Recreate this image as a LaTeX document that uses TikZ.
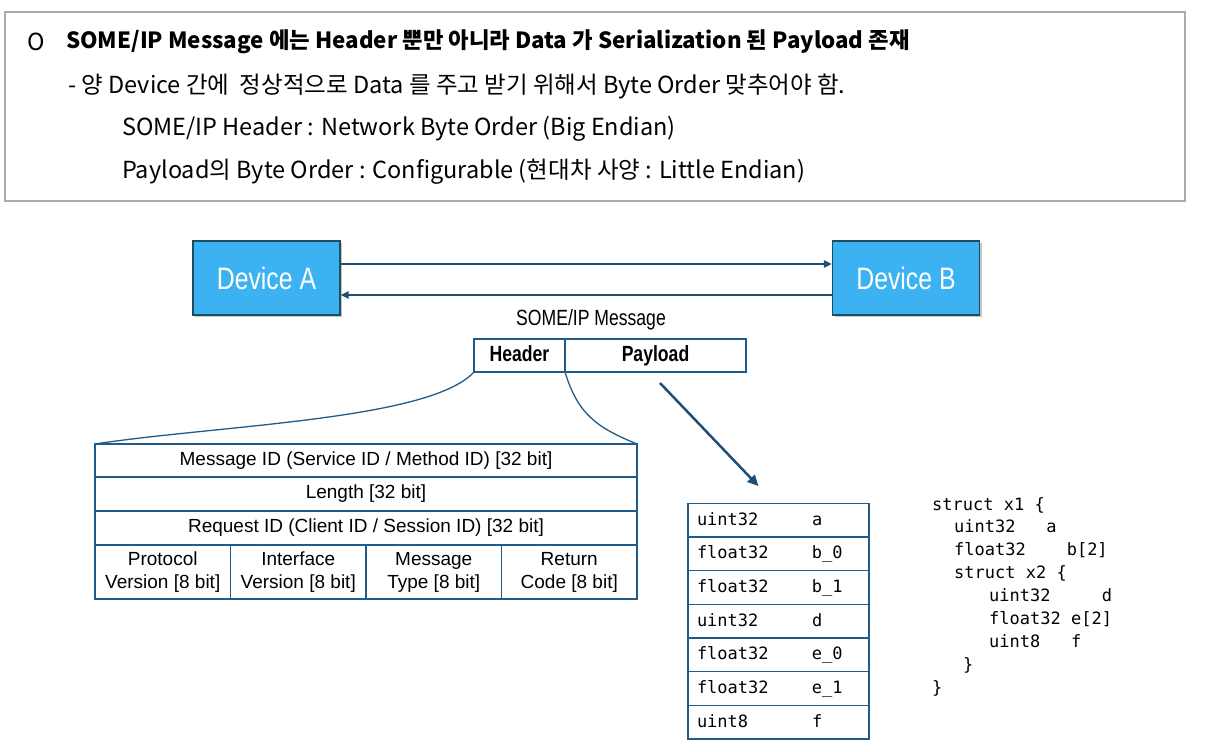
\documentclass[tikz,border=0pt]{standalone}
\usepackage{fontspec}
\setmainfont{Noto Sans CJK KR}
\newfontfamily\krfont{Noto Sans CJK KR}
\newfontfamily\arialfont{Liberation Sans}
\newfontfamily\narrowfont[FakeStretch=0.8]{Liberation Sans}
\setmonofont{DejaVu Sans Mono}
\usetikzlibrary{positioning, arrows.meta, shadows, calc}
\definecolor{devfill}{RGB}{61,178,242}
\definecolor{devedge}{RGB}{28,78,98}
\definecolor{linkblue}{RGB}{31,78,121}
\definecolor{cellblue}{RGB}{31,92,140}
\definecolor{notegray}{RGB}{170,170,170}

\tikzset{
  device/.style={draw=devedge, line width=1.2pt, fill=devfill, minimum width=147pt, minimum height=74pt,
    text=white, font=\narrowfont\fontsize{31}{31}\selectfont,
    drop shadow={shadow xshift=2pt, shadow yshift=-2pt, opacity=0.45}},
  msgpart/.style={draw=cellblue, line width=1.5pt, minimum height=33pt, inner sep=0pt, outer sep=0pt,
    text height=15pt, text depth=4pt, font=\narrowfont\bfseries\fontsize{22}{22}\selectfont},
  hcell/.style={draw=cellblue, line width=1.3pt, inner sep=0pt, outer sep=0pt, align=center,
    font=\arialfont\fontsize{19}{23}\selectfont},
  pcell/.style={draw=cellblue, line width=1.3pt, inner xsep=9pt, inner ysep=0pt, outer sep=0pt,
    minimum height=33.7pt, text width=163pt, text height=13pt, text depth=3pt, align=left,
    font=\ttfamily\fontsize{17}{17}\selectfont},
  code/.style={inner sep=0pt, font=\ttfamily\fontsize{17}{17}\selectfont},
  note/.style={anchor=west, inner sep=0pt, font=\krfont\fontsize{23.5}{23.5}\selectfont},
  link/.style={linkblue, line width=2pt, -{Triangle[length=8pt, width=7pt]}},
}

\begin{document}
\begin{tikzpicture}[x=1pt, y=-1pt]
  \useasboundingbox (0,0) rectangle (1205,752);

  % notes box
  \node[draw=notegray, line width=1.3pt, minimum width=1180pt, minimum height=189pt] (notes) at (595,106.5) {};
  \node[note] (bullet) at (27,42) {O};
  \node[note, font=\krfont\bfseries\fontsize{22.3}{22.3}\selectfont] (line1) at (66,42) {SOME/IP Message 에는 Header 뿐만 아니라 Data 가 Serialization 된 Payload 존재};
  \node[note] (line2) at (68,86) {- 양 Device 간에\ \ 정상적으로 Data 를 주고 받기 위해서 Byte Order 맞추어야 함.};
  \node[note] (line3) at (122,129) {SOME/IP Header : Network Byte Order (Big Endian)};
  \node[note] (line4) at (122,172) {Payload의 Byte Order : Configurable (현대차 사양 : Little Endian)};

  % devices
  \node[device] (devA) at (266.5,278) {Device A};
  \node[device] (devB) at (906,278) {Device B};
  \draw[link] ($(devA.east)+(0,-14)$) -- ($(devB.west)+(0,-14)$);
  \draw[link] ($(devB.west)+(0,17)$) -- ($(devA.east)+(0,17)$);

  % SOME/IP message
  \node[font=\narrowfont\fontsize{22}{22}\selectfont, inner sep=0pt] (msg) at (591,320) {SOME/IP Message};
  \node[msgpart, minimum width=91pt] (hdr) at (519.5,355.5) {Header};
  \node[msgpart, minimum width=181pt, right=0pt of hdr] (pay) {Payload};

  % header fields
  \node[hcell, minimum width=542pt, minimum height=33pt] (msgid) at (366,460.5) {Message ID (Service ID / Method ID) [32 bit]};
  \node[hcell, minimum width=542pt, minimum height=34pt, below=0pt of msgid] (len) {Length [32 bit]};
  \node[hcell, minimum width=542pt, minimum height=34pt, below=0pt of len] (reqid) {Request ID (Client ID / Session ID) [32 bit]};
  \node[hcell, minimum width=135.5pt, minimum height=54pt, below=0pt of reqid.south west, anchor=north west] (proto) {Protocol\\Version [8 bit]};
  \node[hcell, minimum width=135.5pt, minimum height=54pt, right=0pt of proto] (iface) {Interface\\Version [8 bit]};
  \node[hcell, minimum width=135.5pt, minimum height=54pt, right=0pt of iface] (mtype) {Message\\Type [8 bit]};
  \node[hcell, minimum width=135.5pt, minimum height=54pt, right=0pt of mtype] (rcode) {Return\\Code [8 bit]};

  \draw[cellblue, line width=1.3pt] (hdr.south west) .. controls (430,420) and (220,425) .. (msgid.north west);
  \draw[cellblue, line width=1.3pt] (hdr.south east) .. controls (578,415) and (598,428) .. (msgid.north east);

  % payload fields
  \foreach \t/\n [count=\i] in {uint32/a, float32/b\_0, float32/b\_1, uint32/d, float32/e\_0, float32/e\_1, uint8/f}
    \node[pcell] (p\i) at (778.5,{520+33.7*(\i-1)}) {\makebox[115pt][l]{\t}\n};

  \coordinate (payfoot) at (660,383);
  \draw[linkblue, line width=2.5pt, -{Triangle[length=11pt, width=10pt]}] (payfoot) -- ($(p1.north)+(-20,-17)$);

  % struct definition
  \foreach \dx/\line [count=\i] in {0/{struct x1 \{}, 22/{uint32~~~a}, 22/{float32~~~~b[2]}, 22/{struct x2 \{},
      57/{uint32~~~~~d}, 57/{float32 e[2]}, 57/{uint8~~~f}, 31/{\}}, 0/{\}}}
    \node[code, anchor=base west] (c\i) at ({932+\dx},{510+22.9*(\i-1)}) {\line};
\end{tikzpicture}
\end{document}
